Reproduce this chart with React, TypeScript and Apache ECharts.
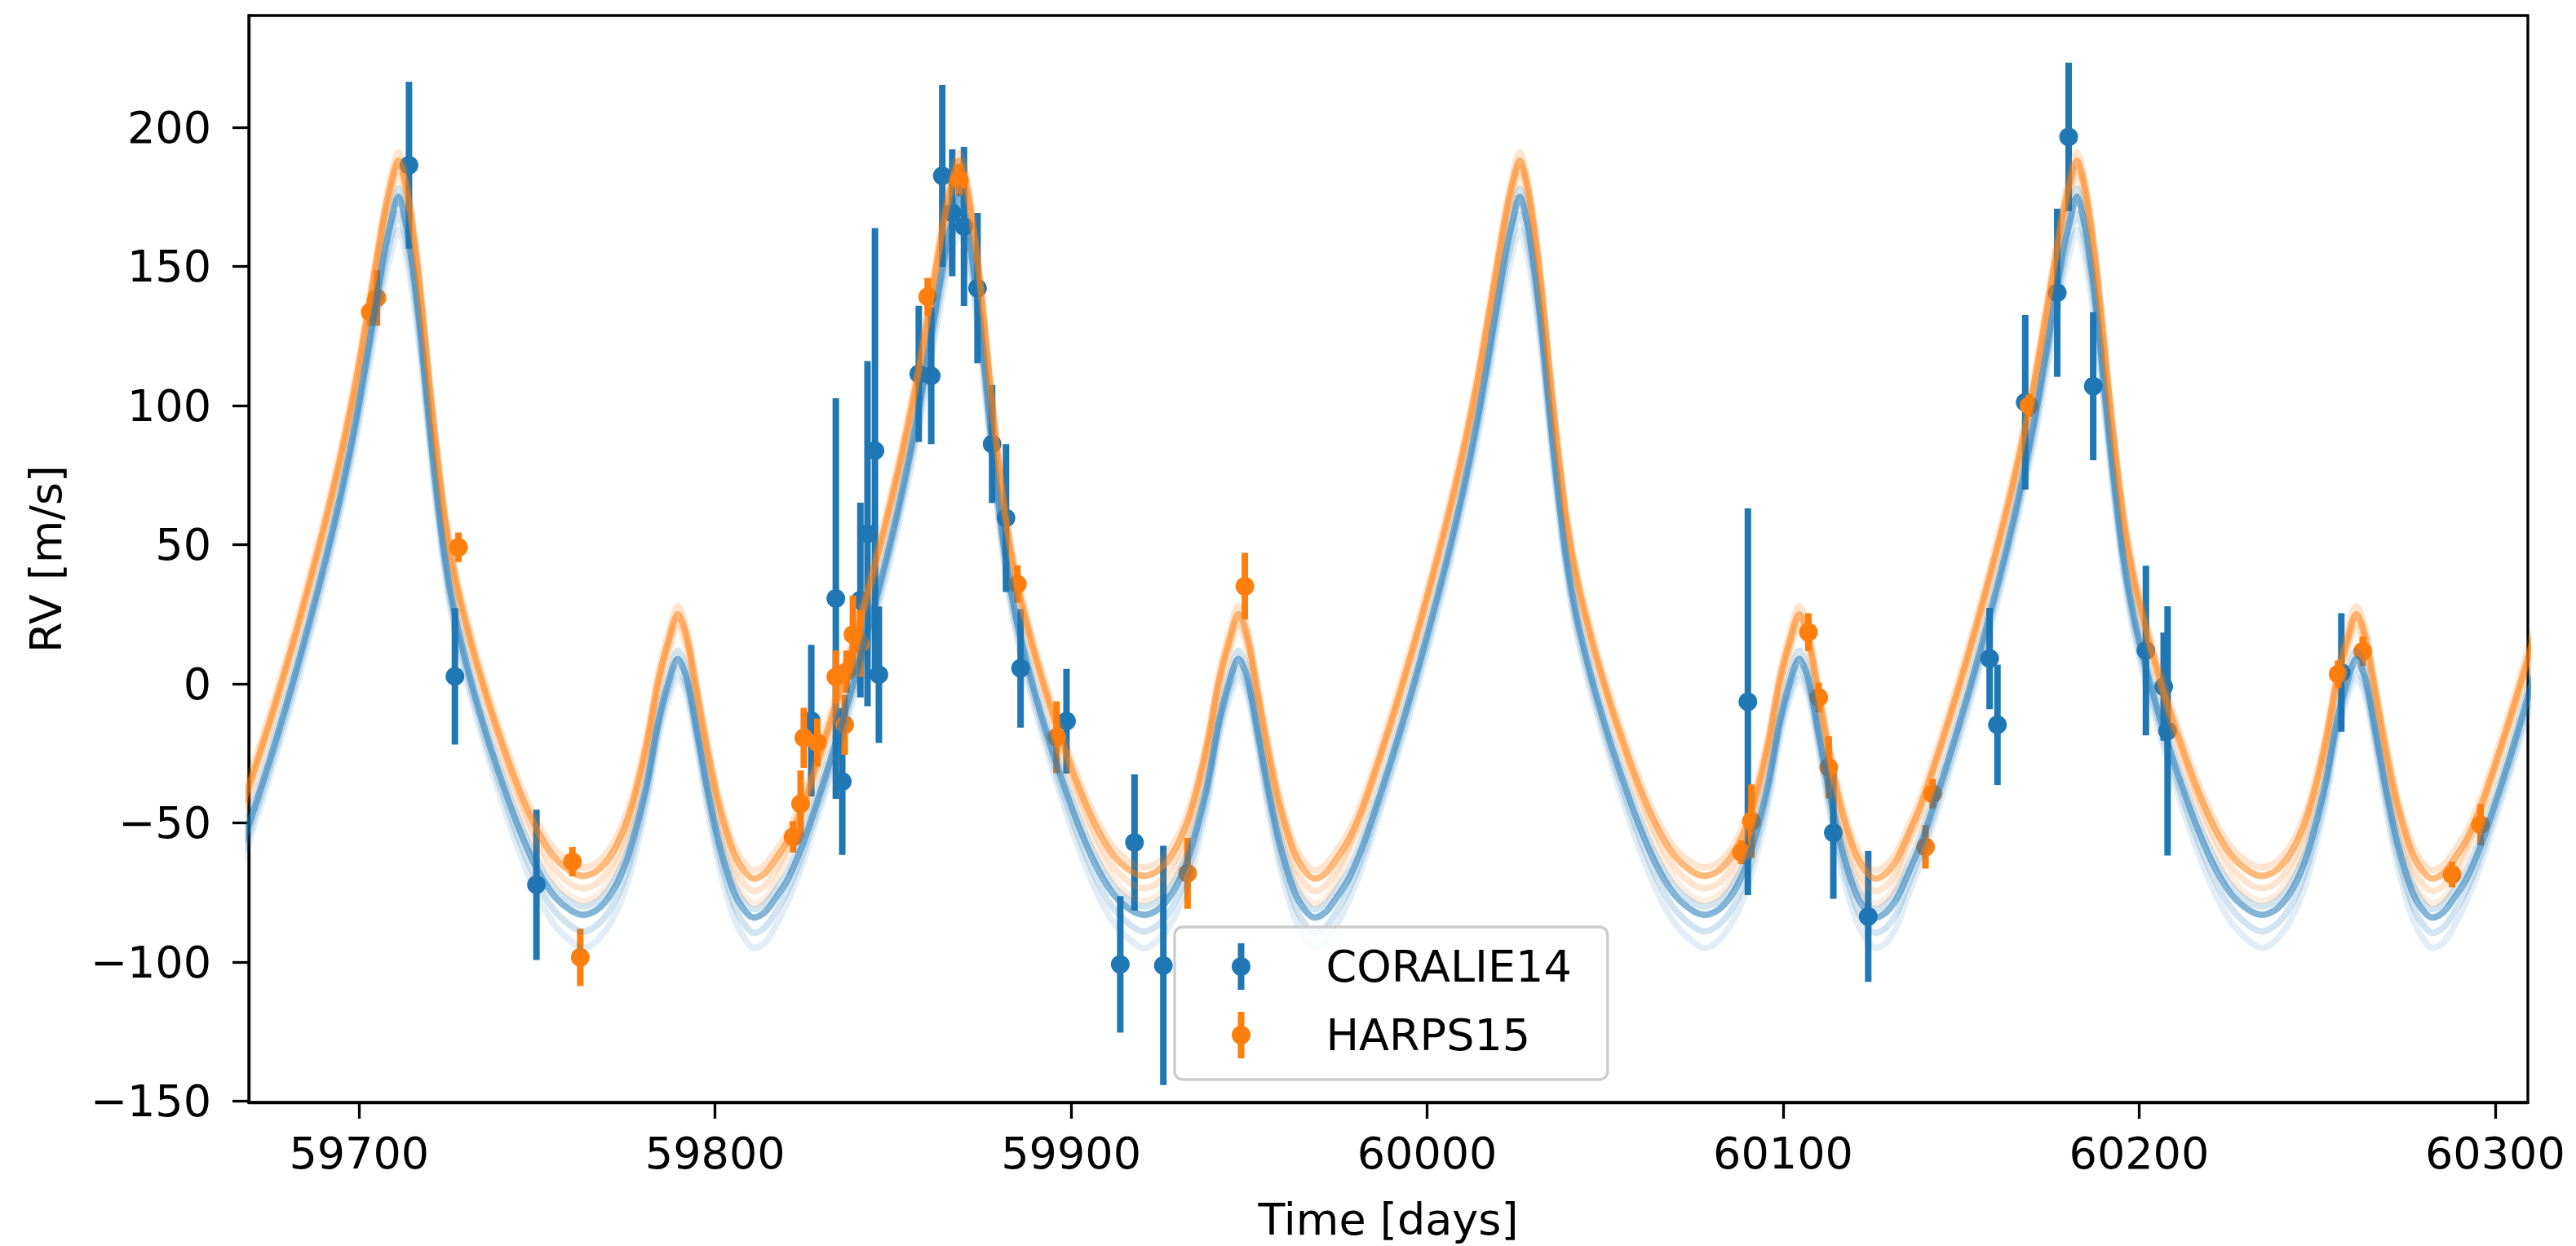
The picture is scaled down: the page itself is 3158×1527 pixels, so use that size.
import React, { useEffect, useRef } from 'react';
import * as echarts from 'echarts';

// ---------- axes ----------
const xTicks = [59700, 59800, 59900, 60000, 60100, 60200, 60300];
const yTicks = [-150, -100, -50, 0, 50, 100, 150, 200];
const xRange = [59669, 60309.2];
const yRange = [-150.4, 240.2];

// ---------- model curves ----------
// times of the big RV maxima of the model, one per orbital cycle
const bigPeakTimes = [59711, 59868.5, 60026, 60182.5, 60340];
// days relative to each big maximum at which the curves were read
const cycleOffsets = [-48, -44, -40, -36, -32, -28, -24, -20, -16, -12, -9, -6, -4, -2, 0, 2, 4, 6, 8, 10, 13, 16, 20, 24, 28, 33, 38, 43, 48, 52, 56, 60, 64, 67, 70, 73, 76, 78.5, 81, 84, 87, 90, 94, 97, 100, 103, 106];
// HARPS15 model draws: central band, upper, middle-lower and lowest faint draws
const harpsModel = [-56, -44, -29, -13, 4, 22, 41, 61, 83, 108, 130, 153, 168, 180, 188, 180, 164, 143, 117, 92, 60, 38, 17, -1, -17, -35, -50, -61, -67, -69, -67, -61, -50, -37, -20, 1, 16, 25, 17, -4, -25, -43, -60, -67, -70, -68, -63];
const harpsModelHigh = [-53, -41, -26, -10, 7, 25, 44, 64, 86, 111, 133, 156, 171, 183, 191, 183, 167, 146, 120, 95, 63, 41, 20, 2, -14, -32, -47, -58, -64, -66, -64, -58, -47, -34, -17, 4, 19, 28, 20, -1, -22, -40, -57, -64, -67, -65, -60];
const harpsModelMid = [-58.5, -46.5, -31, -15, 2, 20, 39, 59, 81, 106, 128, 151, 166, 177.5, 185.5, 177.5, 161.5, 141, 115, 90, 58, 36, 15, -3, -19.5, -38, -53.5, -65, -71.5, -73.5, -71.5, -65, -53.5, -40, -22.5, -1.5, 13.5, 22.5, 14.5, -6.5, -28, -46.5, -64, -71.5, -74.5, -72.5, -67];
const harpsModelLow = [-61, -49, -33, -17, 0, 18, 37, 57, 79, 104, 126, 149, 164, 175, 183, 175, 159, 139, 113, 88, 56, 34, 13, -5, -22, -41, -57, -69, -76, -78, -76, -69, -57, -43, -25, -4, 11, 20, 12, -9, -31, -50, -68, -76, -79, -77, -71];
// CORALIE14 model draws
const coralieModel = [-70, -58, -43, -27, -10, 8, 27, 47, 69, 94, 116, 139, 154, 166, 175, 166, 150, 129, 103, 78, 46, 24, 3, -15, -31, -49, -64, -75, -81, -83, -81, -75, -64, -51, -35, -14, 1, 9, 2, -18, -39, -57, -74, -81, -84, -82, -77];
const coralieModelHigh = [-67, -55, -40, -24, -7, 11, 30, 50, 72, 97, 119, 142, 157, 169, 178, 169, 153, 132, 106, 81, 49, 27, 6, -12, -28, -46, -61, -72, -78, -80, -78, -72, -61, -48, -32, -11, 4, 12, 5, -15, -36, -54, -71, -78, -81, -79, -74];
const coralieModelMid = [-74, -61.5, -46, -30, -13, 5, 24, 44, 66, 90.5, 112, 134.5, 149, 160.5, 169, 160.5, 145, 124.5, 99, 74.5, 43, 21, 0, -18, -34.5, -53, -68.5, -80, -86.5, -89, -86.5, -80, -68.5, -55, -38.5, -17, -2, 5.5, -1, -21, -42.5, -61, -78.5, -86, -89.5, -87.5, -82];
const coralieModelLow = [-78, -65, -49, -33, -16, 2, 21, 41, 63, 87, 108, 130, 144, 155, 163, 155, 140, 120, 95, 71, 40, 18, -3, -21, -38, -57, -73, -85, -92, -95, -92, -85, -73, -59, -42, -20, -5, 2, -4, -24, -46, -65, -83, -91, -95, -93, -87];

// ---------- CORALIE14 data ----------
const coralieTime = [59714.0, 59726.9, 59749.8, 59827.0, 59833.9, 59835.7, 59840.8, 59842.8, 59844.9, 59846.0, 59857.2, 59860.7, 59863.8, 59866.6, 59869.9, 59873.7, 59877.8, 59881.7, 59885.8, 59898.7, 59913.8, 59917.8, 59925.9, 60090.1, 60114.1, 60123.9, 60158.0, 60160.2, 60168.0, 60177.0, 60180.2, 60187.1, 60201.9, 60206.9, 60208.0, 60256.8];
const coralieRV = [186.4, 2.7, -72.2, -13.2, 30.7, -35.1, 30.1, 54, 83.8, 3.3, 111.4, 110.7, 182.6, 169.3, 164.4, 142.2, 86.2, 59.6, 5.6, -13.4, -100.8, -57.0, -101.2, -6.4, -53.5, -83.6, 9.1, -14.7, 101.2, 140.6, 196.6, 107.0, 12.0, -1.0, -16.9, 4.1];
const coralieErr = [30, 24.5, 27, 27.2, 72, 26.4, 35, 62, 80, 24.5, 24.5, 24.5, 32.7, 22.8, 28.6, 27, 21.2, 26.6, 21.3, 18.8, 24.5, 24.5, 43, 69.5, 23.7, 23.5, 18.2, 21.6, 31.4, 30.2, 26.7, 26.6, 30.5, 19.4, 44.8, 21.3];

// ---------- HARPS15 data ----------
const harpsTime = [59703.1, 59705.0, 59727.9, 59759.9, 59762.1, 59821.9, 59824.0, 59824.9, 59828.7, 59833.9, 59836.4, 59836.9, 59838.7, 59840.8, 59859.7, 59868.6, 59884.9, 59895.9, 59932.7, 59948.8, 60088.3, 60091.1, 60107.1, 60110.0, 60112.8, 60140.0, 60142.0, 60169.1, 60255.9, 60262.8, 60287.9, 60295.9];
const harpsRV = [133.6, 138.7, 49.1, -63.9, -98.3, -55.0, -43.1, -19.4, -21.1, 2.5, -14.7, 4.4, 17.7, 14.5, 139.1, 181.1, 35.9, -19.2, -68.1, 35.1, -60.5, -49.3, 18.6, -4.9, -30.0, -58.6, -39.5, 100.0, 3.5, 11.7, -68.5, -50.6];
const harpsErr = [5, 10, 5.3, 5.3, 10.3, 5.6, 12, 10.8, 8.6, 9.5, 10.8, 7.6, 14, 12, 6.8, 5.7, 6.7, 12.9, 12.7, 12, 4.3, 13.2, 6.8, 5.3, 11.2, 7.8, 5.3, 4, 4.9, 5.3, 4.6, 7.4];

const BLUE = '#1f77b4';
const ORANGE = '#ff7f0e';
const FONT = 'DejaVu Sans';
const ICON = 'path://M8,0L16,0L16,57L8,57Z M23.5,28.5A11.5,11.5,0,1,1,0.5,28.5A11.5,11.5,0,1,1,23.5,28.5Z';

function buildModel(values: number[]) {
  const pts: number[][] = [];
  bigPeakTimes.forEach((p) => {
    cycleOffsets.forEach((o, i) => {
      const t = p + o;
      if (t >= 59660 && t <= 60318) pts.push([t, values[i]]);
    });
  });
  return pts;
}

function minusFmt(v: number) {
  return v < 0 ? '\u2212' + Math.abs(v) : String(v);
}

function errorSeries(name: string, color: string, t: number[], v: number[], e: number[]) {
  return {
    type: 'custom',
    name,
    itemStyle: { color },
    encode: { x: 0, y: 1 },
    clip: true,
    data: t.map((ti, i) => [ti, v[i], e[i]]),
    renderItem: (_params: any, api: any) => {
      const tt = api.value(0);
      const vv = api.value(1);
      const ee = api.value(2);
      const top = api.coord([tt, vv + ee]);
      const bot = api.coord([tt, vv - ee]);
      const c = api.coord([tt, vv]);
      return {
        type: 'group',
        children: [
          { type: 'line', shape: { x1: top[0], y1: top[1], x2: bot[0], y2: bot[1] }, style: { stroke: color, lineWidth: 8 } },
          { type: 'circle', shape: { cx: c[0], cy: c[1], r: 11.5 }, style: { fill: color } },
        ],
      };
    },
  };
}

function modelSeries(values: number[], color: string, opacity: number) {
  return {
    type: 'line',
    data: buildModel(values),
    showSymbol: false,
    symbol: 'none',
    smooth: 0.3,
    silent: true,
    clip: true,
    lineStyle: { color, width: 8, opacity, cap: 'round', join: 'round' },
  };
}

export default function App() {
  const ref = useRef<HTMLDivElement>(null);
  useEffect(() => {
    if (!ref.current) return;
    const chart = echarts.init(ref.current, undefined, { renderer: 'svg' });
    const option: any = {
      animation: false,
      backgroundColor: '#ffffff',
      textStyle: { fontFamily: FONT },
      grid: {
        left: 305, right: 59, top: 19, bottom: 176,
        show: true, borderColor: '#000', borderWidth: 3.3, backgroundColor: 'transparent',
        outerBoundsMode: 'none',
      },
      xAxis: {
        type: 'value', min: xRange[0], max: xRange[1],
        name: 'Time [days]', nameLocation: 'middle', nameGap: 116,
        nameTextStyle: { fontFamily: FONT, fontSize: 54, color: '#000' },
        axisLine: { show: true, onZero: false, lineStyle: { color: '#000', width: 3.3 } },
        axisTick: { show: true, length: 20, lineStyle: { color: '#000', width: 3.3 }, customValues: xTicks },
        axisLabel: { customValues: xTicks, margin: 35, fontSize: 54, fontFamily: FONT, color: '#000', formatter: (v: number) => String(v) },
        splitLine: { show: false },
      },
      yAxis: {
        type: 'value', min: yRange[0], max: yRange[1],
        name: 'RV [m/s]', nameLocation: 'middle', nameGap: 222, nameRotate: 90,
        nameTextStyle: { fontFamily: FONT, fontSize: 54, color: '#000' },
        axisLine: { show: true, onZero: false, lineStyle: { color: '#000', width: 3.3 } },
        axisTick: { show: true, length: 20, lineStyle: { color: '#000', width: 3.3 }, customValues: yTicks },
        axisLabel: { customValues: yTicks, margin: 46, fontSize: 54, fontFamily: FONT, color: '#000', formatter: (v: number) => minusFmt(v) },
        splitLine: { show: false },
      },
      legend: {
        left: 1440, top: 1136, orient: 'vertical',
        padding: [20, 44, 26, 70],
        itemGap: 27, itemWidth: 24, itemHeight: 57,
        backgroundColor: 'rgba(255,255,255,0.8)', borderColor: '#cccccc', borderWidth: 3.3, borderRadius: 10,
        textStyle: { fontFamily: FONT, fontSize: 54, color: '#000', padding: [0, 0, 0, 87] },
        itemStyle: { borderWidth: 0 },
        selectedMode: false,
        data: [{ name: 'CORALIE14', icon: ICON }, { name: 'HARPS15', icon: ICON }],
      },
      series: [
        modelSeries(coralieModelLow, BLUE, 0.13),
        modelSeries(harpsModelLow, ORANGE, 0.13),
        modelSeries(coralieModelMid, BLUE, 0.2),
        modelSeries(harpsModelMid, ORANGE, 0.2),
        modelSeries(coralieModelHigh, BLUE, 0.2),
        modelSeries(harpsModelHigh, ORANGE, 0.2),
        modelSeries(coralieModel, BLUE, 0.55),
        modelSeries(harpsModel, ORANGE, 0.55),
        errorSeries('CORALIE14', BLUE, coralieTime, coralieRV, coralieErr),
        errorSeries('HARPS15', ORANGE, harpsTime, harpsRV, harpsErr),
      ],
    };
    chart.setOption(option);
    return () => chart.dispose();
  }, []);
  return <div ref={ref} style={{ position: 'absolute', left: 0, top: 0, width: 3158, height: 1527 }} />;
}
